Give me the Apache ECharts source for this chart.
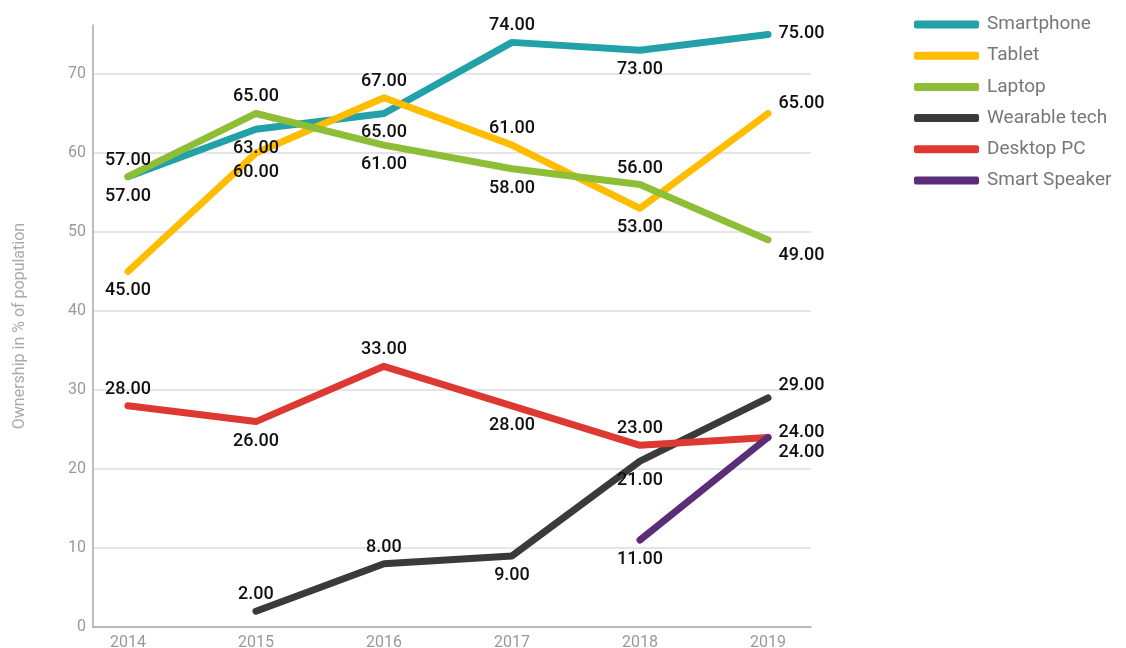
<!DOCTYPE html>
<html>
<head>
<meta charset="utf-8">
<script src="https://cdn.jsdelivr.net/npm/echarts@6/dist/echarts.min.js"></script>
<style>html,body{margin:0;padding:0;background:#fff;}#c{width:1126px;height:648px;}</style>
</head>
<body>
<div id="c"></div>
<script>
const years = [2014, 2015, 2016, 2017, 2018, 2019];
const yTicks = [0, 10, 20, 30, 40, 50, 60, 70];
const seriesNames = ['Smartphone', 'Tablet', 'Laptop', 'Wearable tech', 'Desktop PC', 'Smart Speaker'];
const smartphone = [57, 63, 65, 74, 73, 75];
const tablet = [45, 60, 67, 61, 53, 65];
const laptop = [57, 65, 61, 58, 56, 49];
const wearable = [null, 2, 8, 9, 21, 29];
const desktop = [28, 26, 33, 28, 23, 24];
const speaker = [null, null, null, null, 11, 24];

// label placement (style, not data)
const smartphonePos = ['bottom', 'bottom', 'bottom', 'top', 'bottom', 'right'];
const tabletPos = ['bottom', 'bottom', 'top', 'top', 'bottom', 'right'];
const laptopPos = ['top', 'top', 'bottom', 'bottom', 'top', 'right'];
const wearablePos = [null, 'top', 'top', 'bottom', 'bottom', 'right'];
const desktopPos = ['top', 'bottom', 'top', 'bottom', 'top', 'right'];
const speakerPos = [null, null, null, null, 'bottom', 'right'];
const rightShift = [0, -9, 16, -12, -4, 16];

const colors = ['#22A1A9', '#FFBD00', '#8EBD36', '#3A3A3A', '#DD3831', '#5B2D78'];
const values = [smartphone, tablet, laptop, wearable, desktop, speaker];
const positions = [smartphonePos, tabletPos, laptopPos, wearablePos, desktopPos, speakerPos];

const FONT = 'Roboto';

function build(i) {
  return values[i].map((v, k) => {
    if (v === null) return [years[k], null];
    const pos = positions[i][k];
    let lab;
    if (pos === 'right') lab = {position: [11, rightShift[i]], align: 'left', verticalAlign: 'middle'};
    else if (pos === 'top') lab = {position: 'top', distance: 7};
    else lab = {position: 'bottom', distance: 10};
    return {value: [years[k], v], label: lab};
  });
}

const chart = echarts.init(document.getElementById('c'), null, {renderer: 'canvas'});
chart.setOption({
  animation: false,
  backgroundColor: '#fff',
  textStyle: {fontFamily: FONT},
  grid: {left: 93, right: 315, top: 25, bottom: 21, containLabel: false, outerBoundsMode: 'none'},
  legend: {
    orient: 'vertical',
    left: 909,
    top: 8,
    itemWidth: 65,
    itemHeight: 8,
    itemGap: 8.2,
    icon: 'roundRect',
    textStyle: {fontFamily: FONT, fontSize: 19, color: '#777', padding: [0, 0, 0, 3], lineHeight: 23},
    data: seriesNames
  },
  xAxis: {
    type: 'value',
    min: 2013.727,
    max: 2019.336,
    splitLine: {show: false},
    axisTick: {show: false},
    axisLine: {show: true, lineStyle: {color: '#aaa', width: 1.5}},
    axisLabel: {
      customValues: years,
      formatter: v => String(v),
      color: '#999',
      fontSize: 16,
      margin: 8,
      fontFamily: FONT
    }
  },
  yAxis: {
    type: 'value',
    min: 0,
    max: 76.2,
    interval: 10,
    name: 'Ownership in % of population',
    nameLocation: 'middle',
    nameGap: 65,
    nameTextStyle: {color: '#aaa', fontSize: 16, fontFamily: FONT},
    axisLine: {show: true, lineStyle: {color: '#aaa', width: 1.5}},
    axisTick: {show: false},
    splitLine: {show: true, showMaxLine: false, lineStyle: {color: '#ddd', width: 1.5}},
    axisLabel: {
      customValues: yTicks,
      color: '#999',
      fontSize: 16,
      margin: 7,
      fontFamily: FONT
    }
  },
  series: seriesNames.map((name, i) => ({
    name: name,
    type: 'line',
    data: build(i),
    connectNulls: false,
    symbol: 'circle',
    symbolSize: 1,
    showSymbol: true,
    color: colors[i],
    itemStyle: {color: colors[i]},
    lineStyle: {width: 7, color: colors[i], cap: 'round', join: 'round'},
    label: {
      show: true,
      color: '#111',
      fontSize: 18,
      fontWeight: 500,
      fontFamily: FONT,
      formatter: p => (Array.isArray(p.value) ? p.value[1] : p.value).toFixed(2)
    },
    labelLayout: {hideOverlap: false},
    emphasis: {disabled: true}
  }))
});
</script>
</body>
</html>
